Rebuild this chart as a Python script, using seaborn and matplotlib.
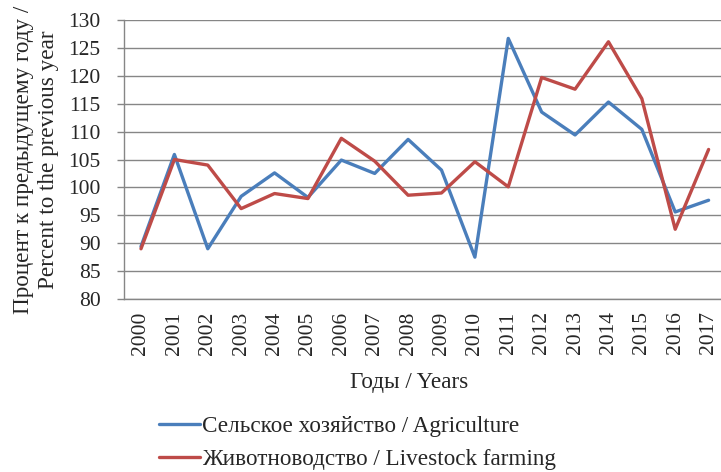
import matplotlib
matplotlib.use("Agg")
import matplotlib.pyplot as plt
import numpy as np
import pandas as pd
import seaborn as sns

# Chart data
years = [str(y) for y in range(2000, 2018)]
agriculture = [89.4, 105.9, 89.0, 98.4, 102.6, 98.2, 104.9, 102.5, 108.6,
               103.1, 87.5, 126.7, 113.5, 109.4, 115.3, 110.4, 95.6, 97.7]
livestock = [89.0, 105.0, 104.0, 96.2, 98.9, 98.0, 108.8, 104.7, 98.6,
             99.0, 104.6, 100.1, 119.7, 117.6, 126.1, 115.9, 92.5, 106.8]
series_names = ["Сельское хозяйство / Agriculture",
                "Животноводство / Livestock farming"]
y_ticks = [80, 85, 90, 95, 100, 105, 110, 115, 120, 125, 130]

sns.set_style("white")
plt.rcParams["font.family"] = ["Liberation Serif", "DejaVu Serif"]

df = pd.DataFrame({
    "year": years * 2,
    "value": agriculture + livestock,
    "series": [series_names[0]] * len(years) + [series_names[1]] * len(years),
})

grid_col = "#868686"
fs = 15.5        # tick labels
fs_lab = 16.7    # axis titles and legend

fig = plt.figure(figsize=(7.21, 4.72), dpi=100)
ax = fig.add_axes([124.3 / 721, 1 - 299 / 472, 601 / 721, 279 / 472])

sns.lineplot(data=df, x="year", y="value", hue="series",
             palette=["#4A7EBB", "#BE4B48"], linewidth=2.4, sort=False,
             ax=ax)
for line in ax.get_lines():
    line.set_solid_joinstyle("round")
    line.set_solid_capstyle("round")

ax.set_xlim(-0.5, len(years) - 0.5)
ax.set_ylim(80, 130)
ax.set_yticks(y_ticks)
ax.set_yticklabels([str(t) for t in y_ticks], fontsize=fs)
ax.yaxis.grid(True, color=grid_col, linewidth=1.0)
ax.set_axisbelow(True)

# category labels at centres, tick marks at category boundaries
ax.set_xticks(np.arange(len(years)))
ax.set_xticklabels(years, rotation=90, fontsize=fs)
ax.set_xticks(np.arange(-0.5, len(years), 1), minor=True)
ax.tick_params(axis="x", which="major", length=0, pad=9)
ax.tick_params(axis="x", which="minor", length=5, width=1, color=grid_col,
               direction="out")
ax.tick_params(axis="y", which="major", length=5, width=1, color=grid_col,
               direction="out", pad=12, left=True)

for side in ["top", "right"]:
    ax.spines[side].set_visible(False)
for side in ["left", "bottom"]:
    ax.spines[side].set_color(grid_col)
    ax.spines[side].set_linewidth(1.0)

ax.set_xlabel("Годы / Years", fontsize=fs_lab)
ax.xaxis.set_label_coords((409 - 124.3) / 601, -0.262)
ax.set_ylabel("Процент к предыдущему году /\nPercent to the previous year",
              fontsize=fs_lab, linespacing=1.25)
ax.yaxis.set_label_coords(-0.108, 0.5)

handles, labels = ax.get_legend_handles_labels()
ax.get_legend().remove()
fig.legend(handles, labels, loc="upper left",
           bbox_to_anchor=(159 / 721, 1 - 416 / 472), frameon=False,
           fontsize=fs_lab, handlelength=1.75, handletextpad=0.1,
           labelspacing=0.5, borderpad=0, borderaxespad=0)

fig.savefig("out.png", dpi=100)
